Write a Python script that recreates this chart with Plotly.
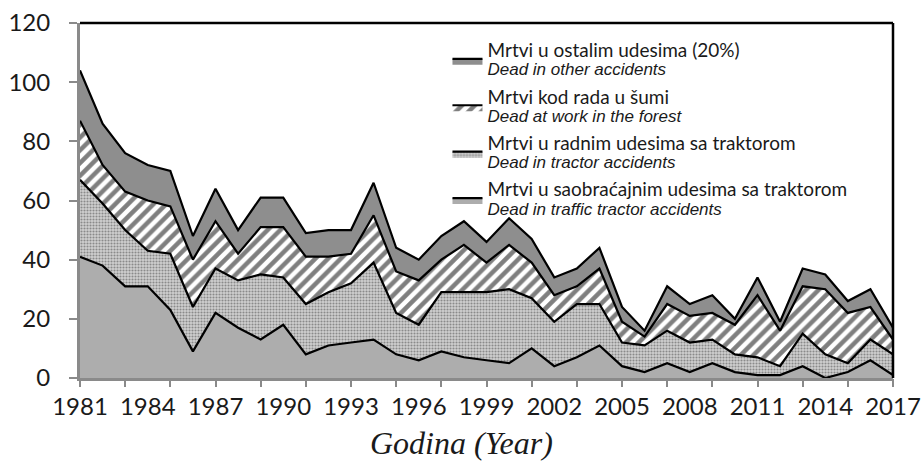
import plotly.graph_objects as go

years = list(range(1981, 2018))
traffic = [41, 38, 31, 31, 23, 9, 22, 17, 13, 18, 8, 11, 12, 13, 8, 6, 9, 7, 6, 5, 10, 4, 7, 11,
           4, 2, 5, 2, 5, 2, 1, 1, 4, 0, 2, 6, 1]
tractor_work = [26, 21, 19, 12, 19, 15, 15, 16, 22, 16, 17, 18, 20, 26, 14, 12, 20, 22, 23, 25, 17, 15, 18, 14,
                8, 9, 11, 10, 8, 6, 6, 3, 11, 8, 3, 7, 7]
forest = [20, 13, 13, 17, 16, 16, 16, 9, 16, 17, 16, 12, 10, 16, 14, 15, 11, 16, 10, 15, 12, 9, 6, 12,
          7, 3, 9, 9, 9, 10, 21, 12, 16, 22, 17, 11, 5]
other = [17, 14, 13, 12, 12, 8, 11, 8, 10, 10, 8, 9, 8, 11, 8, 7, 8, 8, 7, 9, 8, 6, 6, 7,
         5, 2, 6, 4, 6, 2, 6, 3, 6, 5, 4, 6, 4]

names = [
    "Mrtvi u saobraćajnim udesima sa traktorom",
    "Mrtvi u radnim udesima sa traktorom",
    "Mrtvi kod rada u šumi",
    "Mrtvi u ostalim udesima (20%)",
]
names_en = [
    "Dead in traffic tractor accidents",
    "Dead in tractor accidents",
    "Dead at work in the forest",
    "Dead in other accidents",
]
label_years = list(range(1981, 2018, 3))
tick_years = list(range(1981, 2018, 2))

series = [traffic, tractor_work, forest, other]
fills = [
    dict(fillcolor="#adadad"),
    dict(fillcolor="#c0c0c0", fillpattern=dict(shape=".", fgcolor="#444444", bgcolor="#d0d0d0", size=3, solidity=0.4)),
    dict(fillcolor="white", fillpattern=dict(shape="/", fgcolor="black", bgcolor="white", size=9, solidity=0.5)),
    dict(fillcolor="#8e8e8e"),
]

fig = go.Figure()
for i, (vals, nm, en, st) in enumerate(zip(series, names, names_en, fills)):
    label = ("<span style='font-size:19px'>" + nm + "</span><br>"
             "<span style='font-family:\"Liberation Sans\";font-size:17px;font-style:italic'>"
             + en + "</span>")
    fig.add_trace(go.Scatter(
        x=years, y=vals, name=label, mode="lines", stackgroup="one",
        legendgroup="g%d" % i, legendrank=1000 - i,
        line=dict(color="black", width=2.2), hoverinfo="skip", **st))

# invisible trace on overlay axis carrying the tick marks
fig.add_trace(go.Scatter(x=[years[0], years[-1]], y=[0, 0], xaxis="x2", mode="lines",
                         line=dict(width=0), showlegend=False, hoverinfo="skip"))

fig.update_layout(
    width=924, height=465,
    margin=dict(l=80, r=31, t=23, b=87),
    paper_bgcolor="white", plot_bgcolor="white",
    font=dict(family="Lato", size=24, color="#1a1a1a"),
    showlegend=True,
    legend=dict(
        x=0.452, y=0.963, xanchor="left", yanchor="top",
        traceorder="grouped", bgcolor="rgba(0,0,0,0)",
        font=dict(family="Lato", size=14, color="#1a1a1a"),
        itemwidth=30, tracegroupgap=7,
    ),
    xaxis=dict(
        range=[1981, 2017], tickmode="array", tickvals=label_years,
        ticktext=[str(y) for y in label_years],
        ticks="", showgrid=False, zeroline=False, automargin=False,
        ticklabelstandoff=5,
        showline=True, linecolor="#8a8a8a", linewidth=3,
    ),
    xaxis2=dict(
        range=[1981, 2017], overlaying="x", side="bottom", anchor="y",
        tickmode="array", tickvals=tick_years, showticklabels=False,
        ticks="outside", ticklen=8, tickwidth=2, tickcolor="#8a8a8a",
        showgrid=False, zeroline=False, showline=False, automargin=False,
    ),
    yaxis=dict(
        range=[0, 120], dtick=20, ticks="outside", ticklen=8, tickwidth=2,
        tickcolor="#8a8a8a", showgrid=False, zeroline=False, automargin=False,
        ticklabelstandoff=14,
        showline=True, linecolor="#8a8a8a", linewidth=3,
    ),
    shapes=[
        dict(type="line", xref="paper", yref="paper", x0=0, x1=1, y0=1, y1=1,
             line=dict(color="black", width=2.5)),
        dict(type="line", xref="paper", yref="paper", x0=1, x1=1, y0=0, y1=1,
             line=dict(color="black", width=2.5)),
    ],
    annotations=[
        dict(text="Godina (Year)", xref="paper", yref="paper", x=0.469, y=-0.183,
             xanchor="center", yanchor="middle", showarrow=False,
             font=dict(family="Liberation Serif", size=32, color="#1a1a1a", style="italic")),
    ],
)

fig.write_html("out.html", config={"displayModeBar": False},
               post_script="document.body.style.margin='0';document.body.style.overflow='hidden';")
